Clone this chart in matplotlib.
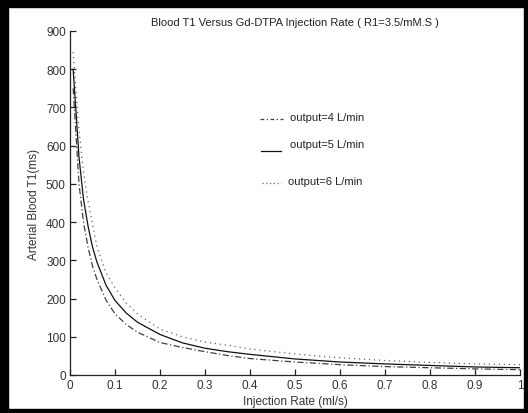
import matplotlib
matplotlib.use("Agg")
import matplotlib.pyplot as plt
from matplotlib.patches import Rectangle

# ---- data ----
rate = [0.007, 0.02, 0.03, 0.04, 0.05, 0.06, 0.08, 0.1, 0.125, 0.15, 0.2,
        0.25, 0.3, 0.35, 0.4, 0.5, 0.6, 0.7, 0.8, 0.9, 1.0]
t1_out4 = [750, 500, 400, 335, 285, 250, 196, 160, 132, 112, 85,
           72, 61, 51, 43, 34, 27, 22, 19, 16, 14]
t1_out5 = [800, 570, 460, 390, 335, 295, 235, 195, 162, 138, 106,
           84, 70, 61, 54, 42, 34, 29, 25, 21, 19]
t1_out6 = [845, 640, 530, 455, 395, 335, 268, 228, 188, 160, 120,
           100, 86, 78, 68, 55, 45, 38, 33, 29, 27]

legend_labels = ["output=4 L/min", "output=5 L/min", "output=6 L/min"]
title = "Blood T1 Versus Gd-DTPA Injection Rate ( R1=3.5/mM.S )"
xlabel = "Injection Rate (ml/s)"
ylabel = "Arterial Blood T1(ms)"
xticks = [0, 0.1, 0.2, 0.3, 0.4, 0.5, 0.6, 0.7, 0.8, 0.9, 1]
xticklabels = ["0", "0.1", "0.2", "0.3", "0.4", "0.5", "0.6", "0.7", "0.8", "0.9", "1"]
yticks = [0, 100, 200, 300, 400, 500, 600, 700, 800, 900]

plt.rcParams['font.family'] = ['Liberation Sans', 'DejaVu Sans']

W, H = 528, 414
fig = plt.figure(figsize=(W / 100, H / 100), dpi=100)
fig.patch.set_facecolor("white")

ax = fig.add_axes([70 / W, (H - 376) / H, 450 / W, 344 / H])

ax.plot(rate, t1_out4, color="#404040", lw=0.9, linestyle=(0, (5, 2, 1, 2)))
ax.plot(rate, t1_out5, color="#111111", lw=0.9, linestyle="-")
ax.plot(rate, t1_out6, color="#666666", lw=0.9, linestyle=(0, (1, 3)))

ax.set_xlim(0, 1)
ax.set_ylim(0, 900)
ax.set_xticks(xticks)
ax.set_xticklabels(xticklabels)
ax.set_yticks(yticks)
for s in ["top", "right"]:
    ax.spines[s].set_visible(False)
for s in ["left", "bottom"]:
    ax.spines[s].set_linewidth(0.9)
    ax.spines[s].set_color("#222222")
ax.tick_params(direction="in", length=4, width=0.9, color="#222222",
               labelsize=8.5, labelcolor="#333333", pad=3)

ax.set_title(title, fontsize=8, color="#222222", pad=4)
ax.set_xlabel(xlabel, fontsize=8.5, color="#333333", labelpad=3)
ax.set_ylabel(ylabel, fontsize=8.5, color="#333333", labelpad=4)

# hand-placed legend (text annotations inside axes)
tr = ax.transAxes
ax.plot([0.422, 0.473], [0.744, 0.744], transform=tr, color="#404040", lw=0.9,
        linestyle=(0, (3, 2, 1, 2)))
ax.text(0.489, 0.75, legend_labels[0], transform=tr, fontsize=8, va="center",
        color="#222222")
ax.plot([0.424, 0.469], [0.652, 0.652], transform=tr, color="#111111", lw=0.9)
ax.text(0.489, 0.672, legend_labels[1], transform=tr, fontsize=8, va="center",
        color="#222222")
ax.plot([0.427, 0.469], [0.558, 0.558], transform=tr, color="#666666", lw=0.9,
        linestyle=(0, (1, 2)))
ax.text(0.484, 0.565, legend_labels[2], transform=tr, fontsize=8, va="center",
        color="#222222")

# thick black frame around the figure
fig.patches.extend([
    Rectangle((0, 1 - 8 / H), 1, 8 / H, transform=fig.transFigure, color="black", zorder=10),
    Rectangle((0, 0), 8 / W, 1, transform=fig.transFigure, color="black", zorder=10),
    Rectangle((1 - 4 / W, 0), 4 / W, 1, transform=fig.transFigure, color="black", zorder=10),
    Rectangle((0, 0), 1, 4 / H, transform=fig.transFigure, color="black", zorder=10),
])

fig.savefig("out.png", dpi=100)
